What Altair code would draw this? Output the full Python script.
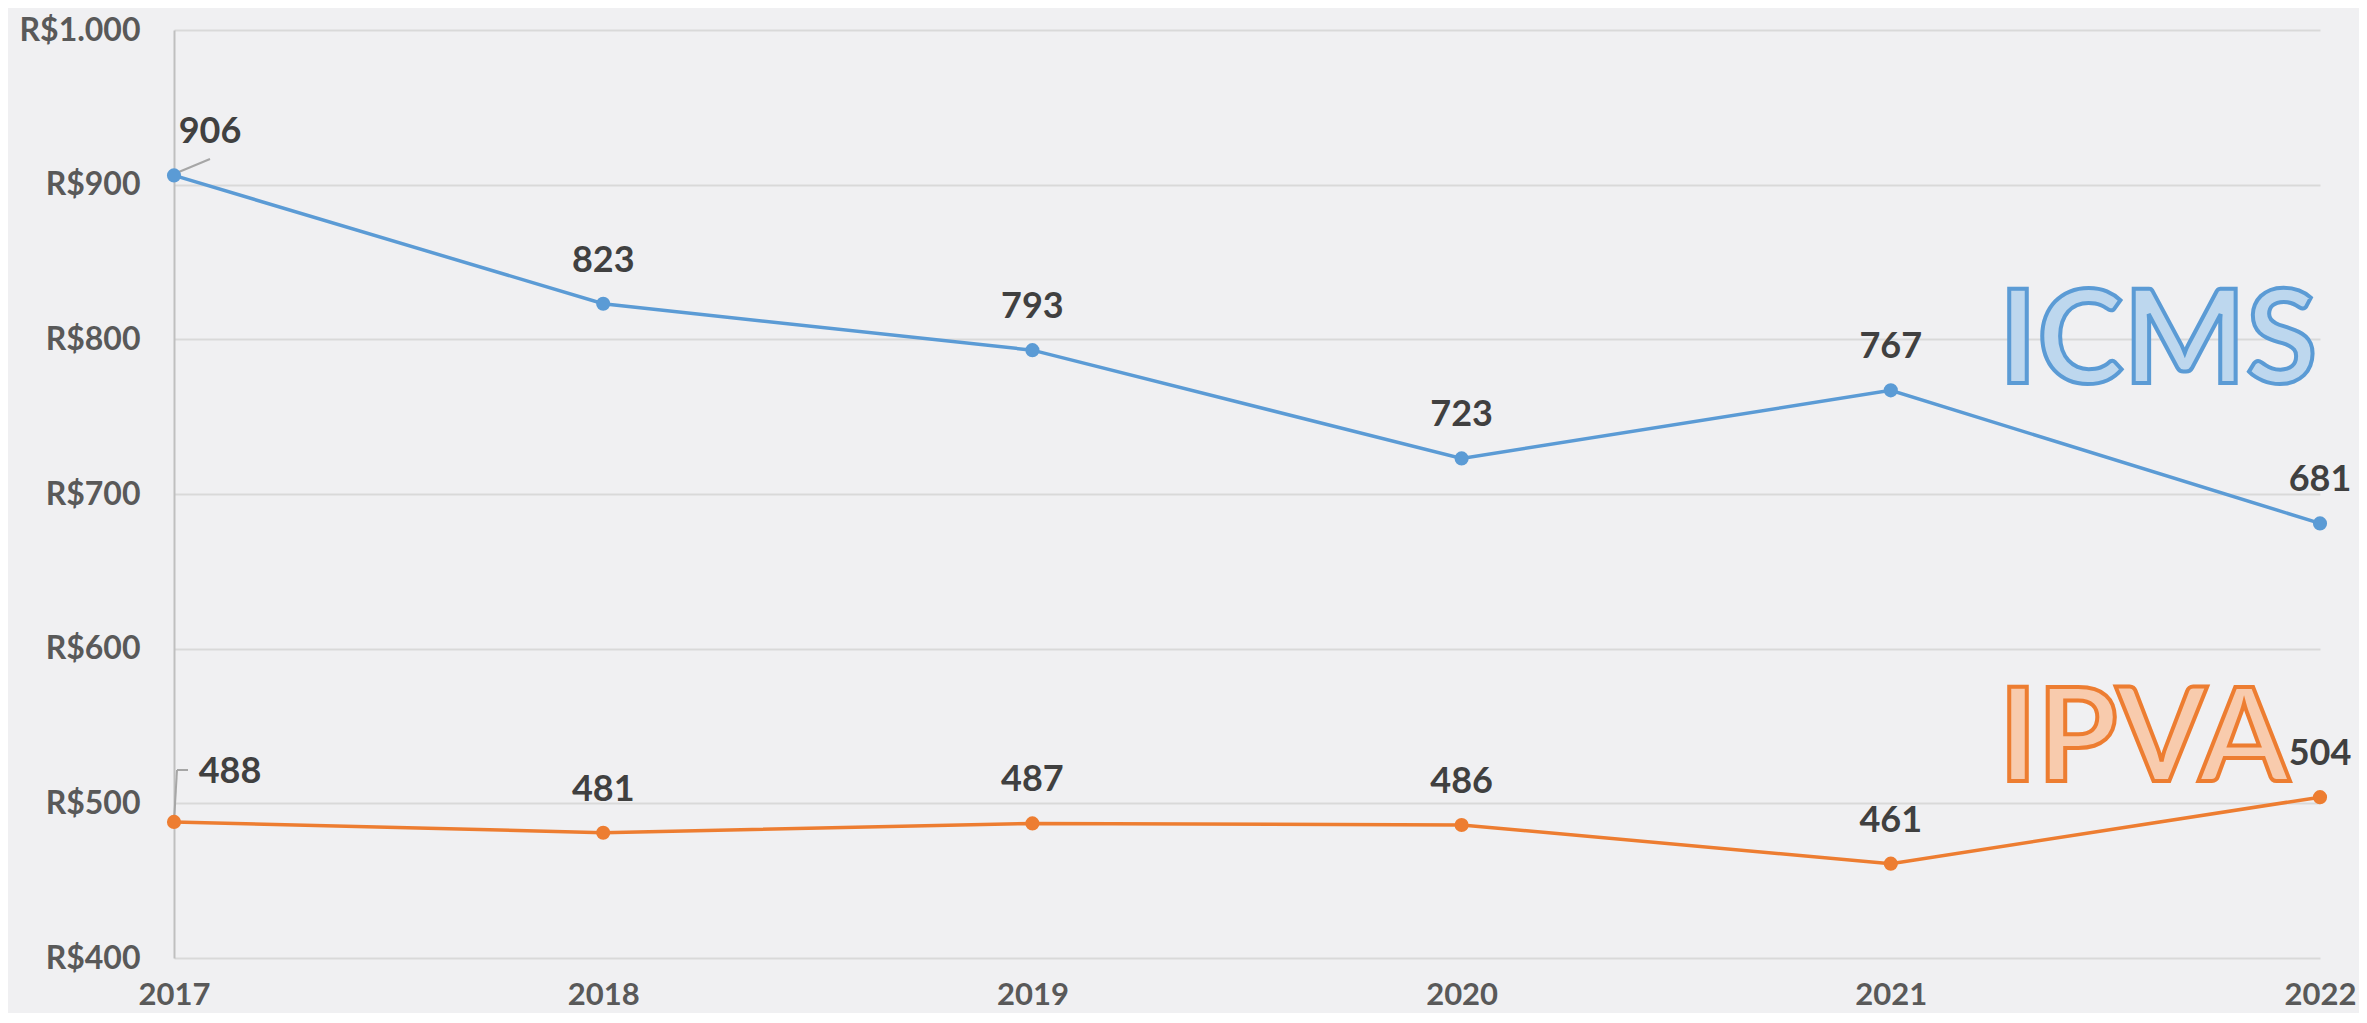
import altair as alt
import pandas as pd

years = [2017, 2018, 2019, 2020, 2021, 2022]
icms = [906, 823, 793, 723, 767, 681]
ipva = [488, 481, 487, 486, 461, 504]
series_names = ["ICMS", "IPVA"]
y_ticks = [400, 500, 600, 700, 800, 900, 1000]

rows = []
for name, vals in zip(series_names, [icms, ipva]):
    for y, v in zip(years, vals):
        rows.append({"year": y, "value": v, "series": name})
df = pd.DataFrame(rows)

FONT = "Lato"
colors = alt.Scale(domain=series_names, range=["#5B9BD5", "#ED7D31"])

x_enc = alt.X(
    "year:Q",
    scale=alt.Scale(domain=[2017, 2022], nice=False, zero=False),
    axis=alt.Axis(
        values=years, format="d", grid=False, ticks=False, title=None,
        domain=False, labelFlush=False, labelOverlap=False,
        labelFont=FONT, labelFontWeight="bold", labelFontSize=31,
        labelColor="#595959", labelPadding=22,
    ),
)
y_enc = alt.Y(
    "value:Q",
    scale=alt.Scale(domain=[400, 1000], nice=False, zero=False),
    axis=alt.Axis(
        values=y_ticks, grid=True, gridColor="#D9D9D9", gridWidth=2,
        domain=True, domainColor="#BFBFBF", domainWidth=2, ticks=False,
        title=None, labelFont=FONT, labelFontWeight="bold", labelFontSize=32,
        labelColor="#595959", labelPadding=34,
        labelExpr="'R$' + replace(format(datum.value, ',d'), ',', '.')",
    ),
)

base = alt.Chart(df)
lines = base.mark_line(strokeWidth=3.5).encode(
    x=x_enc, y=y_enc, color=alt.Color("series:N", scale=colors, legend=None)
)
points = base.mark_circle(size=200, opacity=1).encode(
    x="year:Q", y="value:Q", color=alt.Color("series:N", scale=colors, legend=None)
)
lab_style = dict(font=FONT, fontWeight="bold", fontSize=36, color="#404040",
                 align="center", baseline="middle")
labels = base.transform_filter("datum.year > 2017").mark_text(dy=-43, **lab_style).encode(
    x="year:Q", y="value:Q", text="value:Q"
)
lab906 = base.transform_filter("datum.year == 2017 && datum.series == 'ICMS'").mark_text(
    dx=36, dy=-43, **lab_style).encode(x="year:Q", y="value:Q", text="value:Q")
lab488 = base.transform_filter("datum.year == 2017 && datum.series == 'IPVA'").mark_text(
    dx=56, dy=-50, **lab_style).encode(x="year:Q", y="value:Q", text="value:Q")

one = pd.DataFrame({"k": [0]})
leader1 = alt.Chart(one).mark_rule(color="#A6A6A6", strokeWidth=2).encode(
    x=alt.value(0), y=alt.value(144), x2=alt.value(36), y2=alt.value(129))
leader2a = alt.Chart(one).mark_rule(color="#A6A6A6", strokeWidth=2).encode(
    x=alt.value(0), y=alt.value(792), x2=alt.value(3), y2=alt.value(740))
leader2b = alt.Chart(one).mark_rule(color="#A6A6A6", strokeWidth=2).encode(
    x=alt.value(3), y=alt.value(740), x2=alt.value(14), y2=alt.value(740))

big_icms = alt.Chart(pd.DataFrame({"t": ["ICMS"]})).mark_text(
    font=FONT, fontWeight="bold", fontSize=130, fill="#BDD7EE", stroke="#5B9BD5",
    strokeWidth=4, align="center", baseline="middle"
).encode(x=alt.value(1984), y=alt.value(314), text="t:N")
big_ipva = alt.Chart(pd.DataFrame({"t": ["IPVA"]})).mark_text(
    font=FONT, fontWeight="bold", fontSize=130, fill="#F8CBAD", stroke="#ED7D31",
    strokeWidth=4, align="center", baseline="middle"
).encode(x=alt.value(1970), y=alt.value(712), text="t:N")

chart = alt.layer(
    lines, leader1, leader2a, leader2b, points, labels, lab906, lab488, big_icms, big_ipva
).properties(
    width=2146, height=928,
    autosize=alt.AutoSizeParams(type="none"),
    padding={"left": 166, "top": 22, "right": 39, "bottom": 55},
    background="#F0F0F2",
).configure_view(stroke=None)

chart.save("out.html", embed_options={"renderer": "svg", "actions": False})
